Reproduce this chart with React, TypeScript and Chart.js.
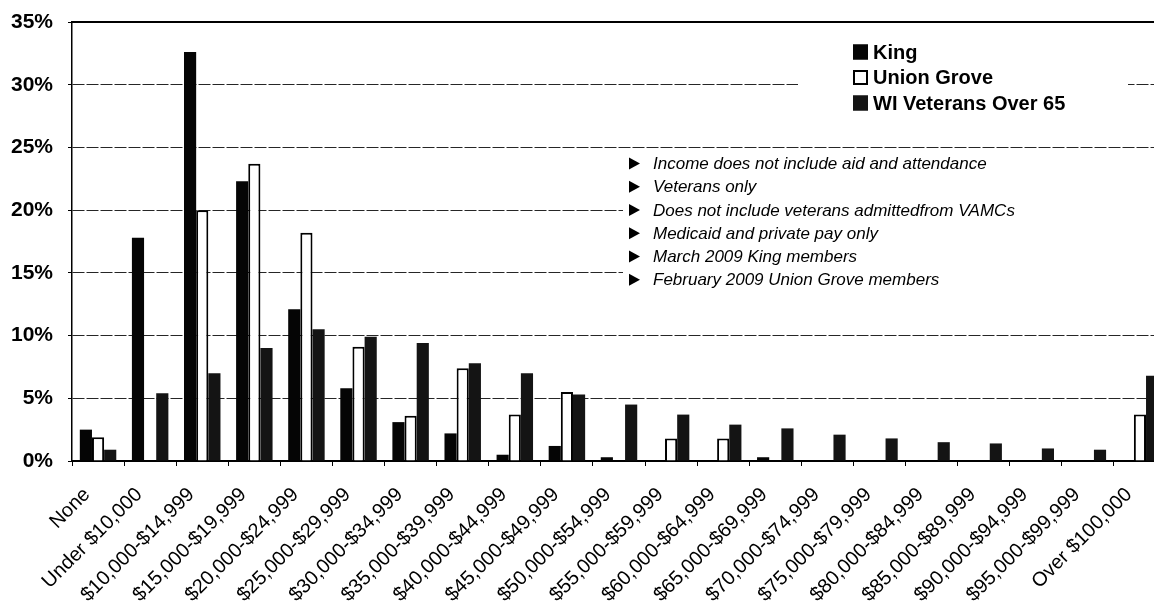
import React, { useEffect, useRef } from 'react';
import { Chart, registerables } from 'chart.js';

Chart.register(...registerables);

// Annual household income brackets
const categories = [
  'None',
  'Under $10,000',
  '$10,000-$14,999',
  '$15,000-$19,999',
  '$20,000-$24,999',
  '$25,000-$29,999',
  '$30,000-$34,999',
  '$35,000-$39,999',
  '$40,000-$44,999',
  '$45,000-$49,999',
  '$50,000-$54,999',
  '$55,000-$59,999',
  '$60,000-$64,999',
  '$65,000-$69,999',
  '$70,000-$74,999',
  '$75,000-$79,999',
  '$80,000-$84,999',
  '$85,000-$89,999',
  '$90,000-$94,999',
  '$95,000-$99,999',
  'Over $100,000',
];

// Share of members in each bracket (percent)
const kingShare = [2.5, 17.8, 32.6, 22.3, 12.1, 5.8, 3.1, 2.2, 0.5, 1.2, 0.3, 0, 0, 0.3, 0, 0, 0, 0, 0, 0, 0];
const unionGroveShare = [1.9, 0, 20.0, 23.7, 18.2, 9.1, 3.6, 7.4, 3.7, 5.5, 0, 1.8, 1.8, 0, 0, 0, 0, 0, 0, 0, 3.7];
const wiVeteransShare = [0.9, 5.4, 7.0, 9.0, 10.5, 9.9, 9.4, 7.8, 7.0, 5.3, 4.5, 3.7, 2.9, 2.6, 2.1, 1.8, 1.5, 1.4, 1.0, 0.9, 6.8];

const seriesNames = ['King', 'Union Grove', 'WI Veterans Over 65'];

const yMin = 0;
const yMax = 35;
const yStep = 5;

const notes = [
  'Income does not include aid and attendance',
  'Veterans only',
  'Does not include veterans admittedfrom VAMCs',
  'Medicaid and private pay only',
  'March 2009 King members',
  'February 2009 Union Grove members',
];

const FONT = "'Liberation Sans', Arial, Helvetica, sans-serif";

const KING_COLOR = '#050505';
const WI_COLOR = '#141414';

// Draws the top frame line, the legend box and the notes list inside the plot
const overlayPlugin = {
  id: 'overlays',
  afterDraw(chart: any) {
    const { ctx, chartArea, scales } = chart;
    const yScale = scales.y;
    const left = chartArea.left;
    const top = chartArea.top;

    ctx.save();

    // solid frame line along the top of the plot
    const yTop = yScale.getPixelForValue(yMax);
    ctx.strokeStyle = '#000';
    ctx.lineWidth = 2;
    ctx.setLineDash([]);
    ctx.beginPath();
    ctx.moveTo(chartArea.left, yTop);
    ctx.lineTo(chartArea.right, yTop);
    ctx.stroke();

    // legend
    const legendX = left + 726;
    ctx.fillStyle = '#fff';
    ctx.fillRect(legendX, top + 10, 330, 95);
    const swatches = [
      { fill: KING_COLOR, stroke: KING_COLOR },
      { fill: '#fff', stroke: '#000' },
      { fill: WI_COLOR, stroke: WI_COLOR },
    ];
    ctx.font = `bold 20px ${FONT}`;
    ctx.textBaseline = 'middle';
    ctx.textAlign = 'left';
    seriesNames.forEach((name, i) => {
      const cy = top + 30 + i * 25.5;
      const sx = left + 781;
      ctx.fillStyle = swatches[i].fill;
      ctx.fillRect(sx, cy - 7.5, 15, 15);
      ctx.strokeStyle = swatches[i].stroke;
      ctx.lineWidth = 2;
      ctx.strokeRect(sx + 1, cy - 6.5, 13, 13);
      ctx.fillStyle = '#000';
      ctx.fillText(name, sx + 20, cy + 1);
    });

    // notes list
    const notesX = left + 551;
    ctx.fillStyle = '#fff';
    ctx.fillRect(notesX, top + 130, chartArea.right - notesX, 140);
    ctx.font = `italic 17px ${FONT}`;
    notes.forEach((text, i) => {
      const cy = top + 141.5 + i * 23.25;
      const tx = left + 557;
      ctx.fillStyle = '#000';
      ctx.beginPath();
      ctx.moveTo(tx, cy - 6);
      ctx.lineTo(tx + 11, cy);
      ctx.lineTo(tx, cy + 6);
      ctx.closePath();
      ctx.fill();
      ctx.fillText(text, tx + 24, cy + 1);
    });

    ctx.restore();
  },
};

export default function App() {
  const canvasRef = useRef<HTMLCanvasElement | null>(null);

  useEffect(() => {
    const canvas = canvasRef.current;
    if (!canvas) return;

    const chart = new Chart(canvas, {
      type: 'bar',
      data: {
        labels: categories,
        datasets: [
          {
            label: seriesNames[0],
            data: kingShare,
            backgroundColor: KING_COLOR,
            borderColor: KING_COLOR,
            borderWidth: 0,
          },
          {
            label: seriesNames[1],
            data: unionGroveShare,
            backgroundColor: '#ffffff',
            borderColor: '#000000',
            borderWidth: 2,
          },
          {
            label: seriesNames[2],
            data: wiVeteransShare,
            backgroundColor: WI_COLOR,
            borderColor: WI_COLOR,
            borderWidth: 0,
          },
        ],
      },
      options: {
        responsive: false,
        animation: false,
        devicePixelRatio: 1,
        layout: { padding: { top: 22, right: 14, bottom: 0, left: 0 } },
        datasets: {
          bar: { categoryPercentage: 0.7, barPercentage: 1.0 },
        },
        plugins: {
          legend: { display: false },
          tooltip: { enabled: false },
          title: { display: false },
        },
        scales: {
          x: {
            grid: {
              display: true,
              drawOnChartArea: false,
              drawTicks: true,
              tickLength: 5,
              tickColor: '#000',
              tickWidth: 1,
              offset: true,
            },
            border: { display: true, color: '#000', width: 2 },
            ticks: {
              autoSkip: false,
              minRotation: 45,
              maxRotation: 45,
              padding: 17,
              labelOffset: -11,
              color: '#000',
              font: { family: FONT, size: 20 },
            },
            afterFit: (scale: any) => {
              scale.height = 152;
            },
          },
          y: {
            min: yMin,
            max: yMax,
            ticks: {
              stepSize: yStep,
              padding: 15,
              color: '#000',
              font: { family: FONT, size: 21, weight: 'bold' },
              callback: (v: any) => `${v}%`,
            },
            grid: {
              color: (c: any) => (c.tick && c.tick.value === 0 ? 'rgba(0,0,0,0)' : '#262626'),
              lineWidth: 1,
              tickLength: 4,
              tickColor: '#000',
            },
            border: { display: true, color: '#000', width: 1.5, dash: [12, 2] },
            afterFit: (scale: any) => {
              scale.width = 72;
              // the layout padding alone sets the top of the plot
              scale.paddingTop = 0;
              scale.paddingBottom = 0;
            },
          },
        },
      },
      plugins: [overlayPlugin],
    });

    return () => chart.destroy();
  }, []);

  return (
    <div
      style={{
        position: 'fixed',
        left: 0,
        top: 0,
        width: 1154,
        height: 613,
        overflow: 'hidden',
        background: '#fff',
      }}
    >
      <canvas ref={canvasRef} width={1180} height={613} style={{ display: 'block' }} />
    </div>
  );
}
